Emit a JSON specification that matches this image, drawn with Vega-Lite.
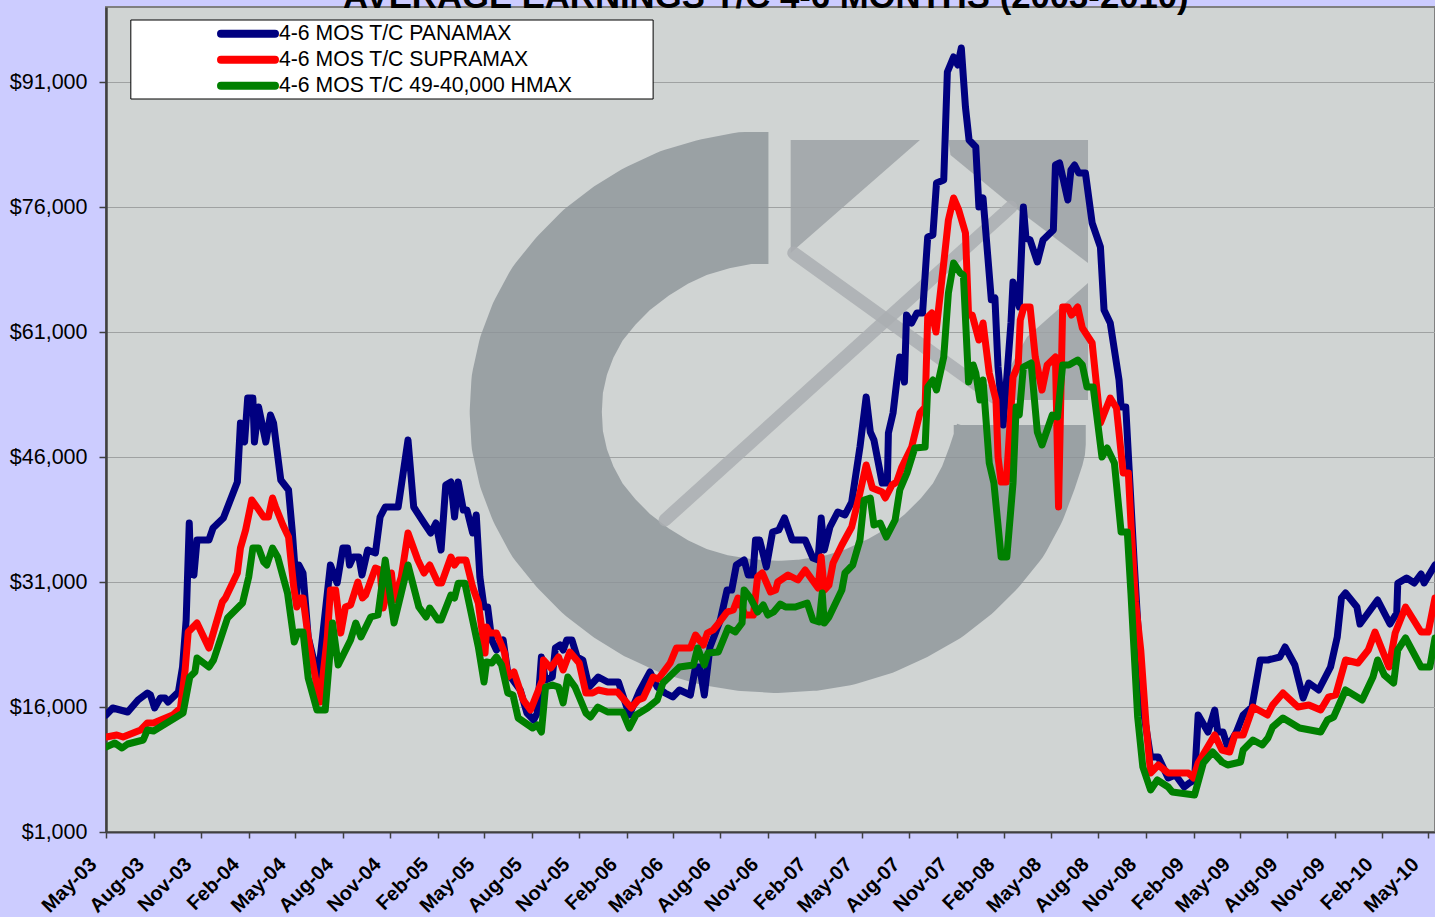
{
"$schema":"https://vega.github.io/schema/vega-lite/v6.json",
"width":1329,"height":825,
"autosize":{"type":"none"},
"padding":{"left":106,"top":7,"right":0,"bottom":85},
"background":"#CCCCFF",
"config":{"view":{"fill":"#D0D4D3","stroke":"#808080","strokeWidth":2}},
"datasets":{
"panamax":[
{"date":"2003-05-01","usd":15040},{"date":"2003-05-14","usd":15880},{"date":"2003-06-12","usd":15400},{"date":"2003-07-02","usd":16840},{"date":"2003-07-20","usd":17680},{"date":"2003-07-26","usd":17440},{"date":"2003-08-03","usd":15880},{"date":"2003-08-14","usd":17080},{"date":"2003-08-23","usd":17080},{"date":"2003-08-29","usd":16600},{"date":"2003-09-18","usd":17800},{"date":"2003-09-26","usd":20800},{"date":"2003-10-03","usd":26440},{"date":"2003-10-09","usd":38080},{"date":"2003-10-12","usd":32080},{"date":"2003-10-18","usd":31840},{"date":"2003-10-24","usd":36040},{"date":"2003-11-16","usd":36040},{"date":"2003-11-24","usd":37480},{"date":"2003-12-14","usd":38680},{"date":"2004-01-10","usd":43000},{"date":"2004-01-16","usd":50080},{"date":"2004-01-24","usd":47800},{"date":"2004-01-30","usd":53080},{"date":"2004-02-09","usd":53080},{"date":"2004-02-12","usd":47800},{"date":"2004-02-20","usd":52000},{"date":"2004-03-05","usd":47800},{"date":"2004-03-14","usd":51040},{"date":"2004-03-20","usd":50080},{"date":"2004-04-03","usd":43240},{"date":"2004-04-18","usd":42040},{"date":"2004-04-25","usd":37240},{"date":"2004-05-04","usd":29680},{"date":"2004-05-08","usd":33040},{"date":"2004-05-16","usd":32080},{"date":"2004-05-26","usd":24400},{"date":"2004-06-14","usd":19480},{"date":"2004-07-08","usd":33040},{"date":"2004-07-21","usd":30880},{"date":"2004-08-01","usd":35080},{"date":"2004-08-10","usd":35080},{"date":"2004-08-14","usd":33040},{"date":"2004-08-21","usd":34000},{"date":"2004-09-01","usd":34000},{"date":"2004-09-07","usd":31840},{"date":"2004-09-18","usd":34840},{"date":"2004-10-03","usd":34480},{"date":"2004-10-12","usd":38800},{"date":"2004-10-22","usd":40000},{"date":"2004-11-16","usd":40000},{"date":"2004-12-05","usd":48040},{"date":"2004-12-16","usd":40000},{"date":"2005-01-05","usd":38080},{"date":"2005-01-18","usd":36880},{"date":"2005-01-28","usd":38080},{"date":"2005-02-07","usd":34840},{"date":"2005-02-16","usd":42640},{"date":"2005-02-26","usd":43000},{"date":"2005-03-05","usd":38800},{"date":"2005-03-12","usd":43000},{"date":"2005-03-22","usd":39640},{"date":"2005-03-29","usd":39640},{"date":"2005-04-09","usd":36880},{"date":"2005-04-16","usd":39040},{"date":"2005-04-23","usd":31600},{"date":"2005-05-01","usd":28000},{"date":"2005-05-08","usd":28000},{"date":"2005-05-16","usd":24040},{"date":"2005-05-25","usd":22840},{"date":"2005-06-07","usd":24040},{"date":"2005-06-16","usd":20080},{"date":"2005-07-10","usd":18040},{"date":"2005-07-23","usd":15280},{"date":"2005-08-05","usd":14440},{"date":"2005-08-12","usd":15280},{"date":"2005-08-20","usd":22000},{"date":"2005-08-28","usd":19240},{"date":"2005-09-10","usd":19600},{"date":"2005-09-16","usd":23080},{"date":"2005-09-25","usd":23440},{"date":"2005-10-01","usd":22840},{"date":"2005-10-08","usd":24040},{"date":"2005-10-18","usd":24040},{"date":"2005-10-28","usd":22000},{"date":"2005-11-08","usd":21640},{"date":"2005-11-20","usd":18400},{"date":"2005-12-08","usd":19600},{"date":"2005-12-26","usd":19000},{"date":"2006-01-16","usd":19000},{"date":"2006-02-06","usd":15040},{"date":"2006-02-25","usd":17800},{"date":"2006-03-18","usd":20200},{"date":"2006-04-01","usd":18400},{"date":"2006-04-16","usd":17680},{"date":"2006-05-01","usd":17200},{"date":"2006-05-14","usd":18040},{"date":"2006-06-04","usd":17440},{"date":"2006-06-14","usd":20800},{"date":"2006-06-22","usd":20800},{"date":"2006-07-01","usd":17440},{"date":"2006-07-12","usd":23200},{"date":"2006-08-01","usd":26440},{"date":"2006-08-14","usd":30040},{"date":"2006-08-23","usd":30040},{"date":"2006-09-01","usd":33040},{"date":"2006-09-16","usd":33640},{"date":"2006-09-24","usd":31840},{"date":"2006-10-03","usd":31840},{"date":"2006-10-08","usd":36040},{"date":"2006-10-16","usd":36040},{"date":"2006-10-29","usd":32800},{"date":"2006-11-10","usd":37000},{"date":"2006-11-22","usd":37240},{"date":"2006-12-03","usd":38680},{"date":"2006-12-18","usd":36040},{"date":"2007-01-12","usd":36040},{"date":"2007-01-27","usd":33880},{"date":"2007-02-06","usd":33640},{"date":"2007-02-12","usd":38680},{"date":"2007-02-18","usd":34840},{"date":"2007-03-01","usd":37600},{"date":"2007-03-16","usd":39400},{"date":"2007-03-30","usd":39040},{"date":"2007-04-12","usd":40600},{"date":"2007-04-28","usd":47200},{"date":"2007-05-10","usd":53200},{"date":"2007-05-18","usd":49000},{"date":"2007-05-25","usd":48040},{"date":"2007-06-10","usd":42880},{"date":"2007-06-20","usd":42880},{"date":"2007-06-22","usd":48880},{"date":"2007-07-01","usd":51280},{"date":"2007-07-08","usd":55000},{"date":"2007-07-14","usd":58000},{"date":"2007-07-23","usd":55000},{"date":"2007-07-27","usd":63040},{"date":"2007-08-06","usd":62080},{"date":"2007-08-16","usd":63280},{"date":"2007-08-27","usd":63280},{"date":"2007-09-06","usd":72400},{"date":"2007-09-16","usd":72640},{"date":"2007-09-23","usd":78880},{"date":"2007-10-07","usd":79240},{"date":"2007-10-14","usd":92200},{"date":"2007-10-26","usd":94000},{"date":"2007-11-03","usd":93040},{"date":"2007-11-10","usd":95080},{"date":"2007-11-18","usd":88000},{"date":"2007-11-25","usd":84040},{"date":"2007-12-08","usd":83200},{"date":"2007-12-14","usd":76000},{"date":"2007-12-22","usd":77080},{"date":"2008-01-07","usd":64880},{"date":"2008-01-14","usd":65080},{"date":"2008-01-20","usd":56800},{"date":"2008-01-30","usd":49840},{"date":"2008-02-14","usd":62080},{"date":"2008-02-18","usd":67000},{"date":"2008-03-01","usd":64000},{"date":"2008-03-09","usd":76000},{"date":"2008-03-14","usd":72280},{"date":"2008-03-22","usd":72040},{"date":"2008-04-05","usd":69400},{"date":"2008-04-16","usd":72040},{"date":"2008-05-06","usd":73240},{"date":"2008-05-10","usd":81040},{"date":"2008-05-18","usd":81280},{"date":"2008-06-03","usd":76840},{"date":"2008-06-09","usd":80440},{"date":"2008-06-16","usd":81040},{"date":"2008-06-24","usd":80080},{"date":"2008-07-07","usd":80080},{"date":"2008-07-20","usd":74080},{"date":"2008-08-05","usd":71200},{"date":"2008-08-12","usd":63640},{"date":"2008-08-24","usd":62080},{"date":"2008-09-10","usd":55240},{"date":"2008-09-14","usd":52000},{"date":"2008-09-23","usd":52000},{"date":"2008-10-01","usd":42880},{"date":"2008-10-09","usd":33640},{"date":"2008-10-18","usd":24040},{"date":"2008-10-26","usd":16000},{"date":"2008-11-10","usd":10000},{"date":"2008-11-25","usd":10000},{"date":"2008-12-14","usd":7480},{"date":"2008-12-28","usd":7840},{"date":"2009-01-14","usd":6400},{"date":"2009-01-24","usd":6880},{"date":"2009-02-03","usd":7240},{"date":"2009-02-10","usd":15040},{"date":"2009-03-01","usd":13000},{"date":"2009-03-14","usd":15640},{"date":"2009-03-20","usd":13000},{"date":"2009-03-30","usd":13000},{"date":"2009-04-08","usd":11200},{"date":"2009-04-25","usd":13000},{"date":"2009-05-08","usd":15040},{"date":"2009-05-25","usd":16000},{"date":"2009-06-10","usd":21640},{"date":"2009-06-25","usd":21640},{"date":"2009-07-18","usd":22000},{"date":"2009-07-28","usd":23200},{"date":"2009-08-16","usd":21040},{"date":"2009-09-01","usd":17080},{"date":"2009-09-12","usd":18880},{"date":"2009-10-01","usd":18040},{"date":"2009-10-24","usd":20800},{"date":"2009-11-06","usd":24400},{"date":"2009-11-14","usd":29080},{"date":"2009-11-22","usd":29680},{"date":"2009-12-14","usd":28000},{"date":"2009-12-20","usd":25960},{"date":"2010-01-23","usd":28840},{"date":"2010-02-16","usd":25960},{"date":"2010-03-01","usd":27280},{"date":"2010-03-03","usd":30840},{"date":"2010-03-20","usd":31480},{"date":"2010-04-04","usd":30880},{"date":"2010-04-17","usd":31960},{"date":"2010-04-23","usd":30880},{"date":"2010-05-14","usd":33040}
],
"supramax":[
{"date":"2003-05-01","usd":12400},{"date":"2003-05-22","usd":12640},{"date":"2003-06-03","usd":12400},{"date":"2003-07-07","usd":13240},{"date":"2003-07-20","usd":14080},{"date":"2003-08-01","usd":14080},{"date":"2003-09-07","usd":15040},{"date":"2003-09-22","usd":15880},{"date":"2003-10-01","usd":20440},{"date":"2003-10-07","usd":25000},{"date":"2003-10-24","usd":26080},{"date":"2003-11-16","usd":23080},{"date":"2003-12-12","usd":28600},{"date":"2003-12-18","usd":29080},{"date":"2004-01-10","usd":32080},{"date":"2004-01-16","usd":35080},{"date":"2004-01-26","usd":37240},{"date":"2004-02-07","usd":40840},{"date":"2004-02-18","usd":39880},{"date":"2004-03-01","usd":38800},{"date":"2004-03-10","usd":38800},{"date":"2004-03-18","usd":41080},{"date":"2004-03-24","usd":40000},{"date":"2004-04-07","usd":37840},{"date":"2004-04-18","usd":36400},{"date":"2004-04-28","usd":30400},{"date":"2004-05-04","usd":28000},{"date":"2004-05-10","usd":29080},{"date":"2004-05-16","usd":29080},{"date":"2004-05-26","usd":24400},{"date":"2004-06-12","usd":18400},{"date":"2004-06-18","usd":16600},{"date":"2004-07-02","usd":24400},{"date":"2004-07-08","usd":30040},{"date":"2004-07-18","usd":30040},{"date":"2004-07-28","usd":24880},{"date":"2004-08-06","usd":28000},{"date":"2004-08-16","usd":28240},{"date":"2004-08-30","usd":31000},{"date":"2004-09-08","usd":29080},{"date":"2004-09-14","usd":29440},{"date":"2004-10-03","usd":32680},{"date":"2004-10-12","usd":32440},{"date":"2004-10-18","usd":27880},{"date":"2004-11-03","usd":32080},{"date":"2004-11-08","usd":28840},{"date":"2004-11-22","usd":31600},{"date":"2004-12-05","usd":36880},{"date":"2004-12-24","usd":33640},{"date":"2005-01-05","usd":32080},{"date":"2005-01-16","usd":33040},{"date":"2005-02-01","usd":30880},{"date":"2005-02-08","usd":30880},{"date":"2005-02-26","usd":34000},{"date":"2005-03-05","usd":33040},{"date":"2005-03-12","usd":33640},{"date":"2005-03-27","usd":33640},{"date":"2005-04-09","usd":30400},{"date":"2005-04-20","usd":28480},{"date":"2005-05-03","usd":22480},{"date":"2005-05-06","usd":25600},{"date":"2005-05-12","usd":24880},{"date":"2005-05-25","usd":24880},{"date":"2005-06-10","usd":22480},{"date":"2005-06-16","usd":19600},{"date":"2005-06-28","usd":20200},{"date":"2005-07-16","usd":16840},{"date":"2005-07-30","usd":15640},{"date":"2005-08-12","usd":17680},{"date":"2005-08-22","usd":19240},{"date":"2005-08-24","usd":21640},{"date":"2005-09-07","usd":20680},{"date":"2005-09-22","usd":22000},{"date":"2005-10-01","usd":20440},{"date":"2005-10-14","usd":22600},{"date":"2005-11-01","usd":21280},{"date":"2005-11-14","usd":17680},{"date":"2005-11-27","usd":17680},{"date":"2005-12-08","usd":18040},{"date":"2005-12-26","usd":17800},{"date":"2006-01-14","usd":17800},{"date":"2006-02-10","usd":15880},{"date":"2006-02-23","usd":16840},{"date":"2006-03-05","usd":17080},{"date":"2006-03-24","usd":19600},{"date":"2006-04-03","usd":19360},{"date":"2006-04-26","usd":21280},{"date":"2006-05-08","usd":23080},{"date":"2006-06-04","usd":23080},{"date":"2006-06-14","usd":24640},{"date":"2006-06-29","usd":23440},{"date":"2006-07-07","usd":24880},{"date":"2006-07-18","usd":25240},{"date":"2006-07-26","usd":25840},{"date":"2006-08-14","usd":27400},{"date":"2006-08-26","usd":27640},{"date":"2006-09-04","usd":29080},{"date":"2006-09-18","usd":27040},{"date":"2006-10-04","usd":27040},{"date":"2006-10-12","usd":31600},{"date":"2006-10-21","usd":32080},{"date":"2006-11-06","usd":29800},{"date":"2006-11-16","usd":30040},{"date":"2006-11-20","usd":31000},{"date":"2006-12-10","usd":31840},{"date":"2006-12-29","usd":31240},{"date":"2007-01-12","usd":32440},{"date":"2007-02-06","usd":30280},{"date":"2007-02-12","usd":34000},{"date":"2007-02-18","usd":30040},{"date":"2007-02-27","usd":30640},{"date":"2007-03-07","usd":33280},{"date":"2007-03-24","usd":35440},{"date":"2007-04-12","usd":37600},{"date":"2007-04-28","usd":41680},{"date":"2007-05-10","usd":45040},{"date":"2007-05-22","usd":42280},{"date":"2007-06-10","usd":41800},{"date":"2007-06-16","usd":41080},{"date":"2007-06-29","usd":42640},{"date":"2007-07-08","usd":43000},{"date":"2007-07-18","usd":44800},{"date":"2007-08-06","usd":47200},{"date":"2007-08-22","usd":51280},{"date":"2007-09-01","usd":52000},{"date":"2007-09-06","usd":62800},{"date":"2007-09-14","usd":63280},{"date":"2007-09-22","usd":61000},{"date":"2007-10-07","usd":69280},{"date":"2007-10-16","usd":74440},{"date":"2007-10-26","usd":77080},{"date":"2007-11-05","usd":75640},{"date":"2007-11-18","usd":72880},{"date":"2007-11-24","usd":63040},{"date":"2007-12-01","usd":63040},{"date":"2007-12-14","usd":60040},{"date":"2007-12-22","usd":62080},{"date":"2008-01-03","usd":56080},{"date":"2008-01-16","usd":52840},{"date":"2008-01-20","usd":46000},{"date":"2008-01-26","usd":43000},{"date":"2008-02-05","usd":43000},{"date":"2008-02-18","usd":55600},{"date":"2008-02-28","usd":57040},{"date":"2008-03-03","usd":62440},{"date":"2008-03-10","usd":64000},{"date":"2008-03-22","usd":64000},{"date":"2008-04-01","usd":58000},{"date":"2008-04-14","usd":54040},{"date":"2008-04-24","usd":57040},{"date":"2008-05-10","usd":58000},{"date":"2008-05-16","usd":40000},{"date":"2008-05-24","usd":64000},{"date":"2008-06-03","usd":64000},{"date":"2008-06-10","usd":63040},{"date":"2008-06-22","usd":64000},{"date":"2008-07-01","usd":61480},{"date":"2008-07-20","usd":59680},{"date":"2008-08-05","usd":50080},{"date":"2008-08-24","usd":53080},{"date":"2008-09-05","usd":51880},{"date":"2008-09-18","usd":44080},{"date":"2008-09-28","usd":44080},{"date":"2008-10-03","usd":38080},{"date":"2008-10-12","usd":28600},{"date":"2008-10-22","usd":22840},{"date":"2008-11-01","usd":14080},{"date":"2008-11-10","usd":8080},{"date":"2008-11-25","usd":9040},{"date":"2008-12-14","usd":8080},{"date":"2009-01-22","usd":8080},{"date":"2009-02-01","usd":7480},{"date":"2009-02-10","usd":9280},{"date":"2009-03-14","usd":12640},{"date":"2009-03-28","usd":10840},{"date":"2009-04-12","usd":10600},{"date":"2009-04-22","usd":12640},{"date":"2009-05-08","usd":12640},{"date":"2009-05-27","usd":16000},{"date":"2009-06-24","usd":15040},{"date":"2009-07-04","usd":16240},{"date":"2009-07-24","usd":17680},{"date":"2009-08-22","usd":16000},{"date":"2009-09-12","usd":16240},{"date":"2009-10-05","usd":15640},{"date":"2009-10-20","usd":17200},{"date":"2009-11-03","usd":17440},{"date":"2009-11-22","usd":21640},{"date":"2009-12-16","usd":21280},{"date":"2010-01-05","usd":22840},{"date":"2010-01-18","usd":25000},{"date":"2010-02-14","usd":20800},{"date":"2010-02-26","usd":24880},{"date":"2010-03-18","usd":28000},{"date":"2010-04-17","usd":25000},{"date":"2010-05-01","usd":25000},{"date":"2010-05-14","usd":29080}
],
"hmax":[
{"date":"2003-05-01","usd":11200},{"date":"2003-05-18","usd":11680},{"date":"2003-06-01","usd":11080},{"date":"2003-06-12","usd":11560},{"date":"2003-07-12","usd":12040},{"date":"2003-07-20","usd":13240},{"date":"2003-08-01","usd":13120},{"date":"2003-09-27","usd":15280},{"date":"2003-10-10","usd":19600},{"date":"2003-10-20","usd":20200},{"date":"2003-10-24","usd":21880},{"date":"2003-11-16","usd":20800},{"date":"2003-11-25","usd":21640},{"date":"2003-12-22","usd":26680},{"date":"2004-01-20","usd":28480},{"date":"2004-02-01","usd":31600},{"date":"2004-02-09","usd":35080},{"date":"2004-02-20","usd":35080},{"date":"2004-03-01","usd":33400},{"date":"2004-03-07","usd":33040},{"date":"2004-03-18","usd":35080},{"date":"2004-03-28","usd":34000},{"date":"2004-04-16","usd":29680},{"date":"2004-04-29","usd":23800},{"date":"2004-05-06","usd":25000},{"date":"2004-05-16","usd":25000},{"date":"2004-05-26","usd":19480},{"date":"2004-06-12","usd":15640},{"date":"2004-06-28","usd":15640},{"date":"2004-07-12","usd":26080},{"date":"2004-07-23","usd":21040},{"date":"2004-08-16","usd":24040},{"date":"2004-08-26","usd":26080},{"date":"2004-09-05","usd":24400},{"date":"2004-09-24","usd":26800},{"date":"2004-10-08","usd":27040},{"date":"2004-10-22","usd":33640},{"date":"2004-11-08","usd":26080},{"date":"2004-11-22","usd":29680},{"date":"2004-12-05","usd":33040},{"date":"2004-12-26","usd":28000},{"date":"2005-01-09","usd":26800},{"date":"2005-01-16","usd":27880},{"date":"2005-02-01","usd":26440},{"date":"2005-02-07","usd":26440},{"date":"2005-02-26","usd":29440},{"date":"2005-03-05","usd":29080},{"date":"2005-03-12","usd":30840},{"date":"2005-03-25","usd":30840},{"date":"2005-04-20","usd":23200},{"date":"2005-05-01","usd":19000},{"date":"2005-05-06","usd":21400},{"date":"2005-05-16","usd":21280},{"date":"2005-05-25","usd":22000},{"date":"2005-06-04","usd":21040},{"date":"2005-06-16","usd":17680},{"date":"2005-06-26","usd":17440},{"date":"2005-07-06","usd":14680},{"date":"2005-08-03","usd":13480},{"date":"2005-08-12","usd":13840},{"date":"2005-08-20","usd":13000},{"date":"2005-08-28","usd":18400},{"date":"2005-09-10","usd":18640},{"date":"2005-09-22","usd":18400},{"date":"2005-10-01","usd":16480},{"date":"2005-10-10","usd":19600},{"date":"2005-10-24","usd":18400},{"date":"2005-11-14","usd":15280},{"date":"2005-11-23","usd":14800},{"date":"2005-12-07","usd":16000},{"date":"2005-12-26","usd":15400},{"date":"2006-01-24","usd":15400},{"date":"2006-02-06","usd":13480},{"date":"2006-02-19","usd":15040},{"date":"2006-03-13","usd":15880},{"date":"2006-04-01","usd":16840},{"date":"2006-04-12","usd":18880},{"date":"2006-05-14","usd":20800},{"date":"2006-06-10","usd":21040},{"date":"2006-06-18","usd":23080},{"date":"2006-07-01","usd":21040},{"date":"2006-07-08","usd":22480},{"date":"2006-07-28","usd":22600},{"date":"2006-08-16","usd":25480},{"date":"2006-08-30","usd":25000},{"date":"2006-09-12","usd":26080},{"date":"2006-09-16","usd":30040},{"date":"2006-09-28","usd":29080},{"date":"2006-10-12","usd":27400},{"date":"2006-10-23","usd":28240},{"date":"2006-11-01","usd":27040},{"date":"2006-11-12","usd":27400},{"date":"2006-11-25","usd":28360},{"date":"2006-12-05","usd":28000},{"date":"2006-12-24","usd":28000},{"date":"2007-01-16","usd":28480},{"date":"2007-01-27","usd":26440},{"date":"2007-02-08","usd":26200},{"date":"2007-02-14","usd":29680},{"date":"2007-02-18","usd":26080},{"date":"2007-02-27","usd":26800},{"date":"2007-03-24","usd":30040},{"date":"2007-03-30","usd":32080},{"date":"2007-04-14","usd":33040},{"date":"2007-04-28","usd":36040},{"date":"2007-05-06","usd":40840},{"date":"2007-05-18","usd":41080},{"date":"2007-05-25","usd":37840},{"date":"2007-06-06","usd":38080},{"date":"2007-06-18","usd":36400},{"date":"2007-07-05","usd":38440},{"date":"2007-07-14","usd":42040},{"date":"2007-07-28","usd":44080},{"date":"2007-08-12","usd":47080},{"date":"2007-09-01","usd":47200},{"date":"2007-09-06","usd":54400},{"date":"2007-09-16","usd":55240},{"date":"2007-09-23","usd":54040},{"date":"2007-10-07","usd":58000},{"date":"2007-10-16","usd":65680},{"date":"2007-10-26","usd":69280},{"date":"2007-11-08","usd":68080},{"date":"2007-11-14","usd":67840},{"date":"2007-11-24","usd":55000},{"date":"2007-12-03","usd":57040},{"date":"2007-12-08","usd":56080},{"date":"2007-12-16","usd":52840},{"date":"2007-12-22","usd":55240},{"date":"2008-01-03","usd":45280},{"date":"2008-01-12","usd":42880},{"date":"2008-01-26","usd":34000},{"date":"2008-02-06","usd":34000},{"date":"2008-02-18","usd":42880},{"date":"2008-02-24","usd":52000},{"date":"2008-03-01","usd":51040},{"date":"2008-03-09","usd":56800},{"date":"2008-03-24","usd":57280},{"date":"2008-04-05","usd":49000},{"date":"2008-04-14","usd":47440},{"date":"2008-05-04","usd":51040},{"date":"2008-05-14","usd":50800},{"date":"2008-05-24","usd":57040},{"date":"2008-06-05","usd":57040},{"date":"2008-06-22","usd":57640},{"date":"2008-07-01","usd":57040},{"date":"2008-07-10","usd":54400},{"date":"2008-07-22","usd":54400},{"date":"2008-08-08","usd":46000},{"date":"2008-08-18","usd":47080},{"date":"2008-09-01","usd":45280},{"date":"2008-09-14","usd":37000},{"date":"2008-09-26","usd":37000},{"date":"2008-10-03","usd":29680},{"date":"2008-10-16","usd":14800},{"date":"2008-10-26","usd":8800},{"date":"2008-11-10","usd":6040},{"date":"2008-11-23","usd":7240},{"date":"2008-12-14","usd":6400},{"date":"2008-12-22","usd":5800},{"date":"2009-02-03","usd":5440},{"date":"2009-02-20","usd":9280},{"date":"2009-03-10","usd":10600},{"date":"2009-03-28","usd":9400},{"date":"2009-04-08","usd":9040},{"date":"2009-05-03","usd":9400},{"date":"2009-05-08","usd":10840},{"date":"2009-05-27","usd":12040},{"date":"2009-06-14","usd":11440},{"date":"2009-06-25","usd":12280},{"date":"2009-07-04","usd":13600},{"date":"2009-07-24","usd":14680},{"date":"2009-08-25","usd":13480},{"date":"2009-10-05","usd":13000},{"date":"2009-10-18","usd":14440},{"date":"2009-10-30","usd":14800},{"date":"2009-11-22","usd":18040},{"date":"2009-12-24","usd":16840},{"date":"2010-01-14","usd":19600},{"date":"2010-01-23","usd":21640},{"date":"2010-02-05","usd":19840},{"date":"2010-02-23","usd":18880},{"date":"2010-03-03","usd":22840},{"date":"2010-03-18","usd":24280},{"date":"2010-04-17","usd":20800},{"date":"2010-05-04","usd":20800},{"date":"2010-05-14","usd":24280}
]
},
"layer":[
{"data":{"values":[
{"seq":1,"date":"2006-11-02","usd":77080},{"seq":2,"date":"2006-09-18","usd":77080},{"seq":3,"date":"2006-07-20","usd":76360},{"seq":4,"date":"2006-05-22","usd":75280},{"seq":5,"date":"2006-03-29","usd":73720},{"seq":6,"date":"2006-02-10","usd":71920},{"seq":7,"date":"2005-12-24","usd":69640},{"seq":8,"date":"2005-11-14","usd":67120},{"seq":9,"date":"2005-10-09","usd":64360},{"seq":10,"date":"2005-09-12","usd":61240},{"seq":11,"date":"2005-08-24","usd":58120},{"seq":12,"date":"2005-08-12","usd":54760},{"seq":13,"date":"2005-08-09","usd":51400},{"seq":14,"date":"2005-08-12","usd":48040},{"seq":15,"date":"2005-08-24","usd":44680},{"seq":16,"date":"2005-09-12","usd":41560},{"seq":17,"date":"2005-10-09","usd":38440},{"seq":18,"date":"2005-11-14","usd":35680},{"seq":19,"date":"2005-12-24","usd":33160},{"seq":20,"date":"2006-02-10","usd":30880},{"seq":21,"date":"2006-03-29","usd":29080},{"seq":22,"date":"2006-05-22","usd":27520},{"seq":23,"date":"2006-07-20","usd":26440},{"seq":24,"date":"2006-09-18","usd":25840},{"seq":25,"date":"2006-11-20","usd":25600},{"seq":26,"date":"2007-01-20","usd":25840},{"seq":27,"date":"2007-03-20","usd":26440},{"seq":28,"date":"2007-05-16","usd":27520},{"seq":29,"date":"2007-07-10","usd":29080},{"seq":30,"date":"2007-08-30","usd":30880},{"seq":31,"date":"2007-10-16","usd":33160},{"seq":32,"date":"2007-11-26","usd":35680},{"seq":33,"date":"2008-01-01","usd":38440},{"seq":34,"date":"2008-01-28","usd":41560},{"seq":35,"date":"2008-02-16","usd":44680},{"seq":36,"date":"2008-03-02","usd":47500},{"seq":37,"date":"2008-03-02","usd":49840}
]},
"mark":{"type":"line","stroke":"#8C9399","opacity":0.8,"strokeWidth":132,"strokeCap":"butt","strokeJoin":"round","clip":true},
"encoding":{"x":{"field":"date","type":"temporal"},"y":{"field":"usd","type":"quantitative"},"order":{"field":"seq","type":"quantitative"}}},
{"data":{"values":[
{"shape":"a","date":"2006-12-15","usd":84040,"low":70480},{"shape":"a","date":"2007-08-22","usd":84040,"low":84040},
{"shape":"b","date":"2007-10-16","usd":84040,"low":84040},{"shape":"b","date":"2007-10-20","usd":84040,"low":82240},{"shape":"b","date":"2008-02-10","usd":84040,"low":76480},{"shape":"b","date":"2008-07-12","usd":84040,"low":69280},
{"shape":"c","date":"2008-01-07","usd":52840,"low":52840},{"shape":"c","date":"2008-03-16","usd":60400,"low":52840},{"shape":"c","date":"2008-07-12","usd":66880,"low":52840}
]},
"mark":{"type":"area","color":"#9DA2A6","opacity":0.85},
"encoding":{"x":{"field":"date","type":"temporal"},"y":{"field":"usd","type":"quantitative"},"y2":{"field":"low"},"detail":{"field":"shape"}}},
{"data":{"values":[
{"bar":"d","date":"2006-04-16","usd":38440},{"bar":"d","date":"2008-02-14","usd":76000},
{"bar":"e","date":"2006-12-21","usd":70480},{"bar":"e","date":"2008-01-12","usd":53200}
]},
"mark":{"type":"line","stroke":"#AAAEB1","opacity":0.85,"strokeWidth":13,"strokeCap":"round"},
"encoding":{"x":{"field":"date","type":"temporal"},"y":{"field":"usd","type":"quantitative"},"detail":{"field":"bar"}}},
{"data":{"name":"panamax"},
"mark":{"type":"line","strokeWidth":7,"strokeJoin":"round","strokeCap":"round","clip":true},
"encoding":{
"x":{"field":"date","type":"temporal","title":null,
 "scale":{"type":"utc","domain":["2003-05-01","2010-05-14"]},
 "axis":{"values":["2003-05-01","2003-08-01","2003-11-01","2004-02-01","2004-05-01","2004-08-01","2004-11-01","2005-02-01","2005-05-01","2005-08-01","2005-11-01","2006-02-01","2006-05-01","2006-08-01","2006-11-01","2007-02-01","2007-05-01","2007-08-01","2007-11-01","2008-02-01","2008-05-01","2008-08-01","2008-11-01","2009-02-01","2009-05-01","2009-08-01","2009-11-01","2010-02-01","2010-05-01"],
 "format":"%b-%y","labelAngle":-45,"labelAlign":"right","labelBaseline":"middle","labelFont":"Liberation Sans","labelFontWeight":"bold","labelFontSize":20,"labelColor":"#000000","labelPadding":23,"labelOffset":-13,"labelOverlap":false,"labelFlush":false,"domainColor":"#404040","domainWidth":2,"tickColor":"#404040","tickSize":6,"tickWidth":1.5,"grid":false}},
"y":{"field":"usd","type":"quantitative","title":null,
 "scale":{"domain":[1000,100000],"nice":false,"zero":false},
 "axis":{"values":[1000,16000,31000,46000,61000,76000,91000],"format":"$,.0f","labelFont":"Liberation Sans","labelFontSize":21.5,"labelColor":"#000000","labelPadding":12,"domainColor":"#404040","domainWidth":2.5,"tickColor":"#404040","tickSize":7,"tickWidth":1.5,"grid":true,"gridColor":"#9FA2A2","gridWidth":1}},
"color":{"datum":"4-6 MOS T/C PANAMAX","type":"nominal",
 "scale":{"domain":["4-6 MOS T/C PANAMAX","4-6 MOS T/C SUPRAMAX","4-6 MOS T/C 49-40,000 HMAX"],"range":["#000080","#FF0000","#008000"]},
 "legend":{"orient":"none","legendX":111,"legendY":14,"title":null,"padding":0,"symbolType":"stroke","symbolSize":2916,"symbolStrokeWidth":8,"clipHeight":25.5,"rowPadding":0,"labelOffset":0,"labelFont":"Liberation Sans","labelFontSize":21.2,"labelColor":"#000000","labelLimit":400,
 "encode":{"symbols":{"update":{"strokeCap":{"value":"round"}}}}}}}},
{"data":{"name":"supramax"},
"mark":{"type":"line","strokeWidth":7,"strokeJoin":"round","strokeCap":"round","clip":true},
"encoding":{"x":{"field":"date","type":"temporal"},"y":{"field":"usd","type":"quantitative"},"color":{"datum":"4-6 MOS T/C SUPRAMAX","type":"nominal"}}},
{"data":{"name":"hmax"},
"mark":{"type":"line","strokeWidth":7,"strokeJoin":"round","strokeCap":"round","clip":true},
"encoding":{"x":{"field":"date","type":"temporal"},"y":{"field":"usd","type":"quantitative"},"color":{"datum":"4-6 MOS T/C 49-40,000 HMAX","type":"nominal"}}},
{"data":{"values":[{"start":"2003-06-18","end":"2006-03-24","low":88960,"high":98440}]},
"mark":{"type":"rect","fill":"#FFFFFF","stroke":"#000000","strokeWidth":1},
"encoding":{"x":{"field":"start","type":"temporal"},"x2":{"field":"end"},"y":{"field":"low","type":"quantitative"},"y2":{"field":"high"}}},
{"data":{"values":[{"date":"2006-10-28","usd":99900,"label":"AVERAGE EARNINGS T/C 4-6 MONTHS (2003-2010)"}]},
"mark":{"type":"text","font":"Liberation Sans","fontSize":34.7,"fontWeight":"bold","color":"#000000","align":"center","baseline":"alphabetic"},
"encoding":{"x":{"field":"date","type":"temporal"},"y":{"field":"usd","type":"quantitative"},"text":{"field":"label"}}}
]
}
